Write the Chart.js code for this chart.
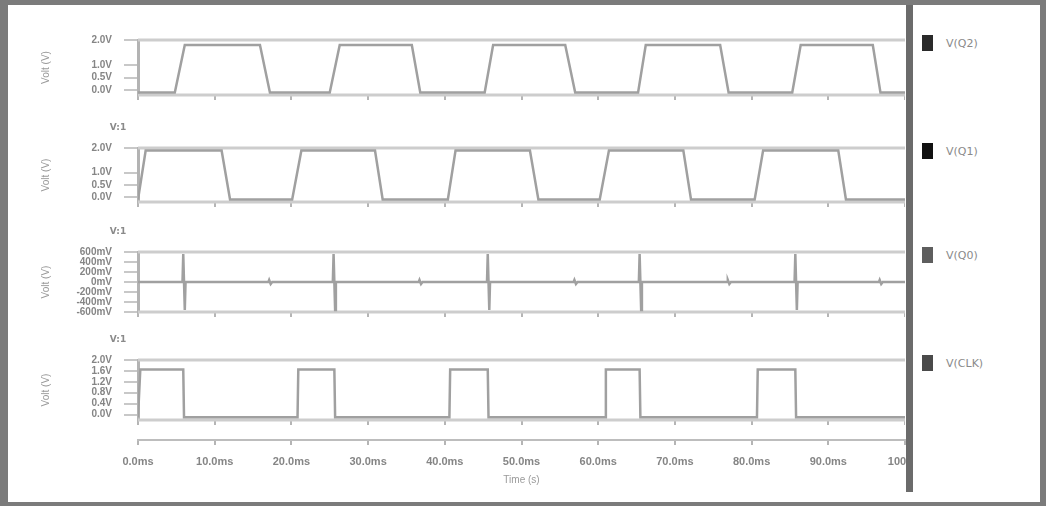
<!DOCTYPE html>
<html>
<head>
<meta charset="utf-8">
<script src="https://cdn.jsdelivr.net/npm/chart.js@4/dist/chart.umd.min.js"></script>
<style>
  html, body { margin: 0; padding: 0; background: #fff; }
  body { width: 1046px; height: 506px; position: relative; overflow: hidden; font-family: "DejaVu Sans", sans-serif; }
  .frame { position: absolute; left: 0; top: 0; width: 1046px; height: 506px; box-sizing: border-box;
           border-style: solid; border-color: #7b7b7b; border-width: 5px 6px 4px 8px; z-index: 5; }
  .divider { position: absolute; left: 906px; top: 4px; width: 7px; height: 488px; background: #6b6b6b; z-index: 4; }
  .pane { position: absolute; }
  .axis-wrap { position: absolute; overflow: hidden; }
  .legend-item { position: absolute; left: 922px; display: flex; align-items: center;
                 font: 11px "DejaVu Sans", sans-serif; color: #8a8a8a; }
  .swatch { width: 11px; height: 16px; margin-right: 13px; }
</style>
</head>
<body>
<div class="frame"></div>
<div class="divider"></div>
<div id="root"></div>
<script>
// series names (legend) and x axis
const seriesNames = ['V(Q2)', 'V(Q1)', 'V(Q0)', 'V(CLK)'];
const swatchColors = ['#2a2a2a', '#111111', '#5e5e5e', '#4a4a4a'];
const timeTicks = [0, 10, 20, 30, 40, 50, 60, 70, 80, 90, 100];
const xLabels = ['0.0ms', '10.0ms', '20.0ms', '30.0ms', '40.0ms', '50.0ms', '60.0ms', '70.0ms', '80.0ms', '90.0ms', '100ms'];
const xTitle = 'Time (s)';
const yTitle = 'Volt (V)';

// waveforms, time in ms
const tQ2 = [0, 4.8, 6.1, 15.9, 17.2, 25.0, 26.3, 35.7, 36.8, 45.2, 46.3, 55.7, 57.0, 65.2, 66.2, 75.9, 77.0, 85.3, 86.4, 95.8, 96.8, 100];
const vQ2 = [-0.1, -0.1, 1.8, 1.8, -0.1, -0.1, 1.8, 1.8, -0.1, -0.1, 1.8, 1.8, -0.1, -0.1, 1.8, 1.8, -0.1, -0.1, 1.8, 1.8, -0.1, -0.1];

const tQ1 = [0, 1.0, 10.9, 12.0, 20.1, 21.3, 30.9, 31.9, 40.4, 41.4, 51.1, 52.2, 60.2, 61.4, 71.1, 72.1, 80.4, 81.5, 91.3, 92.3, 100];
const vQ1 = [-0.1, 1.9, 1.9, -0.1, -0.1, 1.9, 1.9, -0.1, -0.1, 1.9, 1.9, -0.1, -0.1, 1.9, 1.9, -0.1, -0.1, 1.9, 1.9, -0.1, -0.1];

const tQ0 = [0, 5.8, 5.9, 6.1, 6.2, 17.0, 17.1, 17.3, 17.5, 25.4, 25.5, 25.7, 25.8, 36.6, 36.7, 36.9, 37.1, 45.5, 45.6, 45.8, 45.9,
             56.8, 56.9, 57.1, 57.3, 65.3, 65.4, 65.6, 65.7, 76.8, 76.9, 77.1, 77.3, 85.6, 85.7, 85.9, 86.0, 96.6, 96.7, 96.9, 97.1, 100];
const vQ0 = [0, 0, 0.56, -0.56, 0, 0, 0.04, -0.04, 0, 0, 0.56, -0.56, 0, 0, 0.04, -0.04, 0, 0, 0.56, -0.56, 0,
             0, 0.04, -0.04, 0, 0, 0.56, -0.56, 0, 0, 0.04, -0.04, 0, 0, 0.56, -0.56, 0, 0, 0.04, -0.04, 0, 0];

const tClk = [0, 0.3, 5.9, 6.0, 20.8, 20.9, 25.6, 25.7, 40.6, 40.7, 45.6, 45.7, 60.9, 61.0, 65.4, 65.5, 80.7, 80.8, 85.7, 85.8, 100];
const vClk = [-0.1, 1.65, 1.65, -0.1, -0.1, 1.65, 1.65, -0.1, -0.1, 1.65, 1.65, -0.1, -0.1, 1.65, 1.65, -0.1, -0.1, 1.65, 1.65, -0.1, -0.1];

// y tick values per panel
const yTicksQ2 = [2.0, 1.0, 0.5, 0.0];
const yTicksQ1 = [2.0, 1.0, 0.5, 0.0];
const yTicksQ0 = [0.6, 0.4, 0.2, 0, -0.2, -0.4, -0.6];
const yTicksClk = [2.0, 1.6, 1.2, 0.8, 0.4, 0.0];

const voltLabel = v => v.toFixed(1) + 'V';
const milliLabel = v => Math.round(v * 1000) + 'mV';

const panels = [
  { t: tQ2, v: vQ2, ticks: yTicksQ2, min: -0.2, max: 2.0, fmt: voltLabel, tag: '' },
  { t: tQ1, v: vQ1, ticks: yTicksQ1, min: -0.2, max: 2.0, fmt: voltLabel, tag: 'V:1' },
  { t: tQ0, v: vQ0, ticks: yTicksQ0, min: -0.6, max: 0.6, fmt: milliLabel, tag: 'V:1' },
  { t: tClk, v: vClk, ticks: yTicksClk, min: -0.2, max: 2.0, fmt: voltLabel, tag: 'V:1' }
];

// page layout
const boxes = [[40, 95], [148, 202], [252, 312], [360, 420]];
const LEFT = 40, YW = 98, RIGHT = 905, TOPPAD = 30, XH = 9;

const panelFrame = {
  id: 'panelFrame',
  beforeDatasetsDraw(chart, args, opts) {
    const { ctx, chartArea: a } = chart;
    ctx.save();
    ctx.strokeStyle = '#cdcdcd';
    ctx.lineWidth = 3;
    [a.top, a.bottom].forEach(y => {
      ctx.beginPath(); ctx.moveTo(a.left, y); ctx.lineTo(a.right, y); ctx.stroke();
    });
    if (opts.tag) {
      ctx.fillStyle = '#8a8a8a';
      ctx.font = 'bold 9px "DejaVu Sans"';
      ctx.textAlign = 'center';
      ctx.fillText(opts.tag, a.left - 20, a.top - 18);
    }
    ctx.restore();
  }
};

const root = document.getElementById('root');

panels.forEach((p, i) => {
  const [boxTop, boxBottom] = boxes[i];
  const div = document.createElement('div');
  div.className = 'pane';
  div.style.left = LEFT + 'px';
  div.style.top = (boxTop - TOPPAD) + 'px';
  const cv = document.createElement('canvas');
  cv.width = RIGHT - LEFT;
  cv.height = (boxBottom - boxTop) + TOPPAD + XH;
  div.appendChild(cv);
  root.appendChild(div);

  new Chart(cv, {
    type: 'line',
    data: {
      datasets: [{
        label: seriesNames[i],
        data: p.t.map((t, k) => ({ x: t, y: p.v[k] })),
        borderColor: '#a0a0a0',
        borderWidth: 2.5,
        pointRadius: 0,
        tension: 0,
        fill: false
      }]
    },
    options: {
      responsive: false,
      animation: false,
      devicePixelRatio: 1,
      layout: { padding: { top: TOPPAD, right: 0, bottom: 0, left: 0 } },
      plugins: { legend: { display: false }, tooltip: { enabled: false }, panelFrame: { tag: p.tag } },
      scales: {
        x: {
          type: 'linear', min: 0, max: 100,
          afterFit: s => { s.height = XH; s.paddingLeft = 0; s.paddingRight = 0; },
          ticks: { display: false, stepSize: 10 },
          grid: { drawOnChartArea: false, tickLength: 5, color: '#b5b5b5', lineWidth: 2 },
          border: { display: false }
        },
        y: {
          min: p.min, max: p.max,
          afterFit: s => { s.width = YW; s.paddingTop = 0; s.paddingBottom = 0; },
          afterBuildTicks: s => { s.ticks = p.ticks.map(v => ({ value: v })); },
          ticks: { callback: v => p.fmt(v), color: '#858585', font: { size: 10, weight: 'bold' }, padding: 12, autoSkip: false },
          grid: { drawOnChartArea: false, tickLength: 14, color: '#c8c8c8', lineWidth: 2 },
          border: { display: true, color: '#b3b3b3', width: 3 },
          title: { display: true, text: yTitle, color: '#999999', font: { size: 10 }, padding: 0 }
        }
      }
    },
    plugins: [panelFrame]
  });
});

// shared time axis
const axWrap = document.createElement('div');
axWrap.className = 'axis-wrap';
axWrap.style.left = LEFT + 'px';
axWrap.style.top = '425px';
axWrap.style.width = (907 - LEFT) + 'px';
axWrap.style.height = '70px';
const axCv = document.createElement('canvas');
axCv.width = RIGHT - LEFT + 40;
axCv.height = 70;
axWrap.appendChild(axCv);
root.appendChild(axWrap);

new Chart(axCv, {
  type: 'line',
  data: { datasets: [] },
  options: {
    responsive: false,
    animation: false,
    devicePixelRatio: 1,
    layout: { padding: { top: 5, right: 40, bottom: 0, left: 0 } },
    plugins: { legend: { display: false }, tooltip: { enabled: false } },
    scales: {
      x: {
        type: 'linear', min: 0, max: 100,
        afterFit: s => { s.height = 55; },
        afterBuildTicks: s => { s.ticks = timeTicks.map(v => ({ value: v })); },
        ticks: { callback: v => xLabels[timeTicks.indexOf(v)], color: '#858585', font: { size: 11, weight: 'bold' }, padding: 10, autoSkip: false, maxRotation: 0 },
        grid: { drawOnChartArea: false, tickLength: 5, color: '#b5b5b5', lineWidth: 2 },
        border: { display: true, color: '#bdbdbd', width: 2 },
        title: { display: true, text: xTitle, color: '#9a9a9a', font: { size: 10 }, padding: { top: 0, bottom: 9 } }
      },
      y: {
        min: 0, max: 1,
        afterFit: s => { s.width = YW; s.paddingTop = 0; s.paddingBottom = 0; },
        ticks: { display: false },
        grid: { display: false },
        border: { display: false }
      }
    }
  }
});

// legend on the right
seriesNames.forEach((name, i) => {
  const item = document.createElement('div');
  item.className = 'legend-item';
  item.style.top = (boxes[i][0] - 5) + 'px';
  const sw = document.createElement('span');
  sw.className = 'swatch';
  sw.style.background = swatchColors[i];
  const tx = document.createElement('span');
  tx.textContent = name;
  item.appendChild(sw);
  item.appendChild(tx);
  root.appendChild(item);
});
</script>
</body>
</html>
